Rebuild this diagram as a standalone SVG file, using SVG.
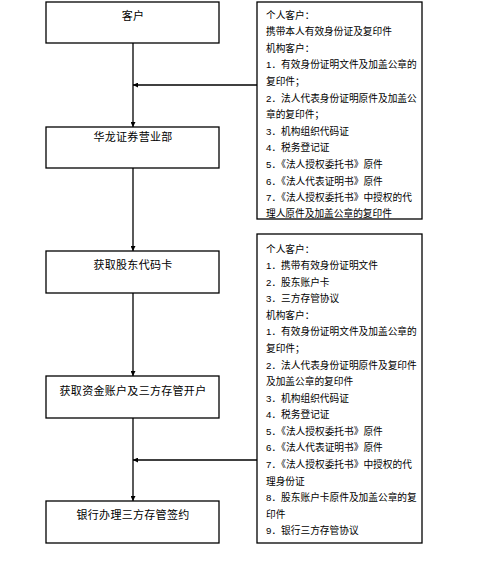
<svg xmlns="http://www.w3.org/2000/svg" width="485" height="564" viewBox="0 0 485 564">
<defs>
<style>
.box{fill:#fff;stroke:#000;stroke-width:1.3}
.t{font-family:"Liberation Sans","Noto Sans CJK SC",sans-serif;font-size:11px;fill:#000;text-anchor:middle;letter-spacing:0.3px}
.n{font-family:"Liberation Sans","Noto Sans CJK SC",sans-serif;font-size:9.7px;fill:#000}
.c{stroke:#000;stroke-width:1.3;fill:none}
</style>
<marker id="ah" viewBox="0 0 10 10" refX="10" refY="5" markerWidth="5" markerHeight="5" orient="auto" markerUnits="userSpaceOnUse">
<path d="M0,0 L10,5 L0,10 Z" fill="#000"/>
</marker>
</defs>
<rect width="485" height="564" fill="#fff"/>
<g id="connectors">
<line class="c" x1="133" y1="43" x2="133" y2="127" marker-end="url(#ah)"/>
<line class="c" x1="133" y1="168" x2="133" y2="251" marker-end="url(#ah)"/>
<line class="c" x1="133" y1="293" x2="133" y2="376" marker-end="url(#ah)"/>
<line class="c" x1="133" y1="418" x2="133" y2="501" marker-end="url(#ah)"/>
<line class="c" x1="257" y1="85" x2="133" y2="85" marker-end="url(#ah)"/>
<line class="c" x1="257" y1="460" x2="133" y2="460" marker-end="url(#ah)"/>
</g>
<g id="n1"><rect class="box" x="46" y="2" width="173" height="41"/><text class="t" x="133" y="20">客户</text></g>
<g id="n2"><rect class="box" x="46" y="127" width="173" height="41"/><text class="t" x="133" y="141">华龙证券营业部</text></g>
<g id="n3"><rect class="box" x="46" y="251" width="173" height="42"/><text class="t" x="133" y="269">获取股东代码卡</text></g>
<g id="n4"><rect class="box" x="46" y="376" width="173" height="42"/><text class="t" x="133" y="395">获取资金账户及三方存管开户</text></g>
<g id="n5"><rect class="box" x="46" y="501" width="173" height="42"/><text class="t" x="133" y="519">银行办理三方存管签约</text></g>
<g id="r1"><rect class="box" x="257" y="2" width="165" height="217"/>
<text class="n" x="266" y="18.5">个人客户：</text>
<text class="n" x="266" y="35">携带本人有效身份证及复印件</text>
<text class="n" x="266" y="51.5">机构客户：</text>
<text class="n" x="266" y="68">1．有效身份证明文件及加盖公章的</text>
<text class="n" x="266" y="85">复印件；</text>
<text class="n" x="266" y="101.5">2．法人代表身份证明原件及加盖公</text>
<text class="n" x="266" y="118">章的复印件；</text>
<text class="n" x="266" y="134.5">3．机构组织代码证</text>
<text class="n" x="266" y="151">4．税务登记证</text>
<text class="n" x="266" y="168">5．《法人授权委托书》原件</text>
<text class="n" x="266" y="184.5">6．《法人代表证明书》原件</text>
<text class="n" x="266" y="201">7．《法人授权委托书》中授权的代</text>
<text class="n" x="266" y="217.5" dy="-1">理人原件及加盖公章的复印件</text>
</g>
<g id="r2"><rect class="box" x="257" y="234" width="165" height="309"/>
<text class="n" x="266" y="252.5">个人客户：</text>
<text class="n" x="266" y="269">1．携带有效身份证明文件</text>
<text class="n" x="266" y="285.5">2．股东账户卡</text>
<text class="n" x="266" y="302">3．三方存管协议</text>
<text class="n" x="266" y="318.5">机构客户：</text>
<text class="n" x="266" y="335">1．有效身份证明文件及加盖公章的</text>
<text class="n" x="266" y="352">复印件；</text>
<text class="n" x="266" y="368.5">2．法人代表身份证明原件及复印件</text>
<text class="n" x="266" y="385">及加盖公章的复印件</text>
<text class="n" x="266" y="401.5">3．机构组织代码证</text>
<text class="n" x="266" y="418">4．税务登记证</text>
<text class="n" x="266" y="434.5">5．《法人授权委托书》原件</text>
<text class="n" x="266" y="451">6．《法人代表证明书》原件</text>
<text class="n" x="266" y="468">7．《法人授权委托书》中授权的代</text>
<text class="n" x="266" y="484.5">理身份证</text>
<text class="n" x="266" y="501">8．股东账户卡原件及加盖公章的复</text>
<text class="n" x="266" y="517.5">印件</text>
<text class="n" x="266" y="534">9．银行三方存管协议</text>
</g>
</svg>
